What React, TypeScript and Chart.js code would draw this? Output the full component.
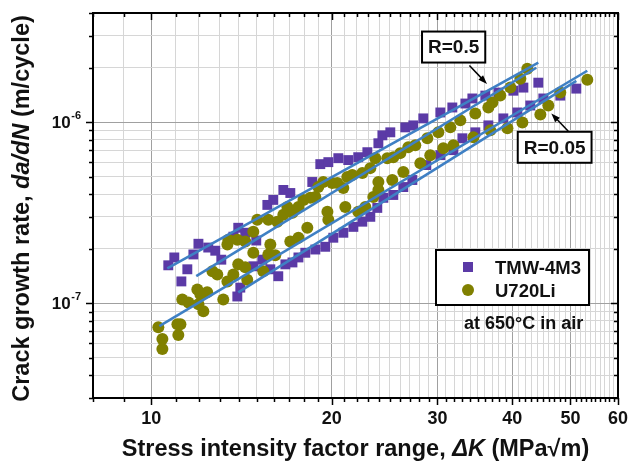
import React, { useEffect, useRef } from 'react';
import { Chart, registerables } from 'chart.js';

Chart.register(...registerables);

// ---- Data (ΔK in MPa√m, da/dN in m/cycle) ----
const tmwK = [
  10.68, 10.93, 11.23, 11.49, 11.76, 11.99, 12.45, 12.79, 13.09, 13.71, 13.97, 14.35, 14.97,
  15.62, 15.98, 16.61, 17.06, 18.56, 19.14, 19.74, 20.51, 21.31, 22.14, 22.93, 23.92, 24.29,
  25.04, 26.52, 27.35, 28.42, 30.34, 31.77, 33.4, 34.31, 36.06, 37.91, 40.16, 41.73, 44.19,
  13.92, 14.08, 14.8, 15.32, 15.8, 16.29, 16.74, 17.2, 17.6, 18.07, 18.78, 19.51, 20.12,
  20.91, 21.73, 22.49, 23.19, 23.82, 24.38, 25.33, 26.32, 27.25, 28.75, 30.34, 31.9, 33.02,
  34.7, 36.48, 38.64, 40.78, 42.85, 45.05, 48.08, 51.13,
];
const tmwRate = [
  1.62e-7, 1.79e-7, 1.32e-7, 1.54e-7, 1.86e-7, 2.13e-7, 2.03e-7, 1.95e-7, 1.74e-7, 2.33e-7, 2.61e-7, 2.45e-7, 2.22e-7,
  3.49e-7, 3.72e-7, 4.22e-7, 4.06e-7, 4.67e-7, 5.86e-7, 6.01e-7, 6.32e-7, 6.17e-7, 6.4e-7, 6.82e-7, 7.64e-7, 8.45e-7,
  8.78e-7, 9.35e-7, 9.59e-7, 1.048e-6, 1.13e-6, 1.204e-6, 1.266e-6, 1.35e-6, 1.4e-6, 1.455e-6, 1.49e-6, 1.55e-6, 1.65e-6,
  1.09e-7, 1.22e-7, 1.6e-7, 1.74e-7, 1.54e-7, 1.41e-7, 1.64e-7, 1.68e-7, 1.79e-7, 1.9e-7, 1.98e-7, 2.05e-7, 2.3e-7,
  2.45e-7, 2.64e-7, 2.82e-7, 3.0e-7, 3.36e-7, 3.82e-7, 3.96e-7, 4.38e-7, 4.79e-7, 5.79e-7, 6.57e-7, 7.0e-7, 8.14e-7,
  8.78e-7, 9.59e-7, 1.048e-6, 1.13e-6, 1.235e-6, 1.35e-6, 1.4e-6, 1.53e-6,
];

const u720K = [
  10.28, 10.44, 10.44, 11.06, 11.19, 11.1, 11.27, 11.54, 11.94, 12.08, 12.4, 12.22, 11.99,
  13.19, 12.65, 12.89, 13.4, 13.71, 13.97, 14.35, 14.46, 14.8, 15.68, 16.1, 15.8, 15.38,
  17.06, 17.6, 18.21, 19.67, 19.74, 21.07, 22.14, 22.75, 23.46, 23.92, 23.92, 25.23, 26.32,
  28.1, 29.19, 30.69, 31.9, 34.44, 36.76, 39.25, 41.57, 44.54, 45.92, 48.08, 53.33,
  14.8, 13.45, 13.92, 13.4, 14.35, 15.03, 15.68, 16.23, 16.61, 17.2, 16.87, 17.6, 17.94,
  18.42, 18.78, 18.99, 19.36, 20.04, 20.43, 20.91, 21.23, 21.64, 22.49, 23.19, 23.64, 24.75,
  25.33, 26.02, 26.83, 27.56, 28.86, 30.11, 31.53, 32.76, 34.7, 36.48, 37.05, 38.19, 39.7,
  41.25, 42.36,
];
const u720Rate = [
  7.38e-8, 6.35e-8, 5.59e-8, 7.67e-8, 7.67e-8, 6.68e-8, 1.05e-7, 1.01e-7, 1.19e-7, 1.12e-7, 1.15e-7, 9.04e-8, 9.87e-8,
  1.05e-7, 1.5e-7, 1.44e-7, 1.32e-7, 1.44e-7, 1.64e-7, 1.58e-7, 1.35e-7, 1.9e-7, 1.86e-7, 1.84e-7, 2.11e-7, 1.5e-7,
  2.19e-7, 2.3e-7, 2.61e-7, 3.2e-7, 2.89e-7, 3.4e-7, 3.2e-7, 3.4e-7, 3.86e-7, 4.22e-7, 4.67e-7, 4.79e-7, 5.3e-7,
  5.93e-7, 6.57e-7, 7.17e-7, 7.45e-7, 8.24e-7, 9.0e-7, 9.24e-7, 9.96e-7, 1.102e-6, 1.235e-6, 1.455e-6, 1.715e-6,
  2.48e-7, 2.24e-7, 2.24e-7, 2.11e-7, 2.19e-7, 2.89e-7, 2.89e-7, 2.82e-7, 3.08e-7, 3.16e-7, 3.4e-7, 3.4e-7, 3.72e-7,
  3.82e-7, 3.86e-7, 4.38e-7, 4.67e-7, 4.61e-7, 4.61e-7, 4.33e-7, 4.97e-7, 5.1e-7, 5.23e-7, 5.57e-7, 6.32e-7, 6.32e-7,
  6.4e-7, 6.74e-7, 7.26e-7, 7.45e-7, 8.14e-7, 8.78e-7, 9.35e-7, 1.022e-6, 1.116e-6, 1.204e-6, 1.283e-6, 1.4e-6, 1.55e-6,
  1.737e-6, 1.97e-6,
];

// Fitted lines (start/end)
const fitNames = ['TMW-4M3 R=0.5', 'U720Li R=0.5', 'U720Li R=0.05', 'TMW-4M3 R=0.05'];
const fitK = [[10.64, 44.19], [11.89, 43.85], [10.32, 53.33], [13.97, 51.13]];
const fitRate = [[1.556e-7, 2.126e-6], [1.41e-7, 1.995e-6], [7.48e-8, 1.92e-6], [1.149e-7, 1.69e-6]];

// Axes
const xMin = 8, xMax = 60;
const yMin = 3e-8, yMax = 4e-6;
const xMajorTicks = [10, 20, 30, 40, 50, 60];
const yMajorTicks = [1e-7, 1e-6];
const yMajorExp = ['-7', '-6'];

// Annotations (data anchors)
const rLabels = ['R=0.5', 'R=0.05'];
const rBoxCenterK = [31.93, 47.05];
const rBoxCenterRate = [2.595e-6, 7.26e-7];
const rArrowFromK = [33.92, 49.58];
const rArrowFromRate = [2.05e-6, 8.89e-7];
const rArrowToK = [36.29, 46.45];
const rArrowToRate = [1.624e-6, 1.116e-6];
const noteText = 'at 650°C in air';

const FONT = '"Liberation Sans", Arial, Helvetica, sans-serif';
const PURPLE = '#5b3aa6';
const OLIVE = '#808000';
const BLUE = '#3f80c4';

function buildXTicks(): number[] {
  const t: number[] = [];
  for (let v = xMin; v <= xMax; v++) t.push(v);
  return t;
}
function buildYTicks(): number[] {
  const t: number[] = [];
  for (let e = -8; e <= -6; e++) {
    for (let m = 1; m <= 9; m++) {
      const v = Number((m * Math.pow(10, e)).toPrecision(3));
      if (v >= yMin * 0.999 && v <= yMax * 1.001) t.push(v);
    }
  }
  return t;
}
const isMajorX = (v: number) => xMajorTicks.some((m) => Math.abs(m - v) < 1e-9);
const isMajorY = (v: number) => yMajorTicks.some((m) => Math.abs(m - v) / m < 1e-6);

function drawRich(ctx: CanvasRenderingContext2D, segs: { text: string; font: string }[], cx: number, y: number) {
  let total = 0;
  const widths = segs.map((s) => {
    ctx.font = s.font;
    const w = ctx.measureText(s.text).width;
    total += w;
    return w;
  });
  let x = cx - total / 2;
  ctx.textAlign = 'left';
  ctx.textBaseline = 'alphabetic';
  segs.forEach((s, i) => {
    ctx.font = s.font;
    ctx.fillText(s.text, x, y);
    x += widths[i];
  });
}

function drawArrow(ctx: CanvasRenderingContext2D, x1: number, y1: number, x2: number, y2: number) {
  const ang = Math.atan2(y2 - y1, x2 - x1);
  const head = 9, hw = 3.2;
  const c = Math.cos(ang), s = Math.sin(ang);
  ctx.strokeStyle = '#000';
  ctx.fillStyle = '#000';
  ctx.lineWidth = 1.5;
  ctx.beginPath();
  ctx.moveTo(x1, y1);
  ctx.lineTo(x2 - head * 0.7 * c, y2 - head * 0.7 * s);
  ctx.stroke();
  ctx.beginPath();
  ctx.moveTo(x2, y2);
  ctx.lineTo(x2 - head * c + hw * s, y2 - head * s - hw * c);
  ctx.lineTo(x2 - head * c - hw * s, y2 - head * s + hw * c);
  ctx.closePath();
  ctx.fill();
}

const decorPlugin = {
  id: 'decor',
  afterDatasetsDraw(chart: any) {
    const ctx: CanvasRenderingContext2D = chart.ctx;
    const ca = chart.chartArea;
    const xs = chart.scales.x;
    const ys = chart.scales.y;
    ctx.save();

    // Frame
    ctx.strokeStyle = '#000';
    ctx.lineWidth = 2;
    ctx.strokeRect(ca.left, ca.top, ca.right - ca.left, ca.bottom - ca.top);

    // Tick marks
    ctx.lineWidth = 1.5;
    ctx.beginPath();
    buildXTicks().forEach((v) => {
      const px = Math.round(xs.getPixelForValue(v)) + 0.5;
      const len = isMajorX(v) ? 7 : 4;
      ctx.moveTo(px, ca.bottom);
      ctx.lineTo(px, ca.bottom + len);
      ctx.moveTo(px, ca.top);
      ctx.lineTo(px, ca.top + len);
    });
    buildYTicks().forEach((v) => {
      const py = Math.round(ys.getPixelForValue(v)) + 0.5;
      const len = isMajorY(v) ? 7 : 4;
      ctx.moveTo(ca.left - len, py);
      ctx.lineTo(ca.left, py);
      ctx.moveTo(ca.right - len, py);
      ctx.lineTo(ca.right, py);
    });
    ctx.stroke();

    // X tick labels
    ctx.fillStyle = '#111';
    ctx.font = `bold 18px ${FONT}`;
    ctx.textAlign = 'center';
    ctx.textBaseline = 'alphabetic';
    xMajorTicks.forEach((v) => {
      ctx.fillText(String(v), xs.getPixelForValue(v), ca.bottom + 26);
    });

    // Y tick labels 10^n
    yMajorTicks.forEach((v, i) => {
      const py = ys.getPixelForValue(v);
      ctx.font = `bold 11px ${FONT}`;
      const supW = ctx.measureText(yMajorExp[i]).width;
      const supX = ca.left - 12 - supW;
      ctx.textAlign = 'left';
      ctx.fillText(yMajorExp[i], supX, py - 3.5);
      ctx.font = `bold 17px ${FONT}`;
      ctx.textAlign = 'right';
      ctx.fillText('10', supX - 0.5, py + 6);
    });

    // Axis titles
    ctx.fillStyle = '#111';
    const tb = `bold 23.5px ${FONT}`;
    const ti = `italic bold 23.5px ${FONT}`;
    drawRich(ctx, [
      { text: 'Stress intensity factor range, ', font: tb },
      { text: 'ΔK', font: ti },
      { text: ' (MPa√m)', font: tb },
    ], (ca.left + ca.right) / 2, 456);
    ctx.save();
    ctx.translate(29, (ca.top + ca.bottom) / 2 + 3);
    ctx.rotate(-Math.PI / 2);
    drawRich(ctx, [
      { text: 'Crack growth rate, ', font: tb },
      { text: 'da/dN', font: ti },
      { text: ' (m/cycle)', font: tb },
    ], 0, 0);
    ctx.restore();

    // Legend
    const lx = ca.right - 182, ly = ca.top + 237, lw = 153, lh = 55;
    ctx.fillStyle = '#fff';
    ctx.fillRect(lx, ly, lw, lh);
    ctx.strokeStyle = '#000';
    ctx.lineWidth = 2;
    ctx.strokeRect(lx, ly, lw, lh);
    ctx.fillStyle = PURPLE;
    ctx.fillRect(lx + 32 - 5, ly + 17 - 5, 10, 10);
    ctx.fillStyle = OLIVE;
    ctx.beginPath();
    ctx.arc(lx + 32, ly + 40, 6, 0, Math.PI * 2);
    ctx.fill();
    ctx.fillStyle = '#111';
    ctx.font = `bold 18.5px ${FONT}`;
    ctx.textAlign = 'left';
    ctx.textBaseline = 'alphabetic';
    ctx.fillText('TMW-4M3', lx + 59, ly + 24);
    ctx.fillText('U720Li', lx + 59, ly + 47);

    // Note
    ctx.font = `bold 18px ${FONT}`;
    ctx.fillText(noteText, lx + 28, ly + 79);

    // R labels with arrows
    rLabels.forEach((lab, i) => {
      const bx = xs.getPixelForValue(rBoxCenterK[i]);
      const by = ys.getPixelForValue(rBoxCenterRate[i]);
      ctx.font = `bold 19px ${FONT}`;
      const w = ctx.measureText(lab).width + 12;
      const h = 31;
      ctx.fillStyle = '#fff';
      ctx.fillRect(bx - w / 2, by - h / 2, w, h);
      ctx.strokeStyle = '#000';
      ctx.lineWidth = 2;
      ctx.strokeRect(bx - w / 2, by - h / 2, w, h);
      ctx.fillStyle = '#111';
      ctx.textAlign = 'center';
      ctx.textBaseline = 'middle';
      ctx.fillText(lab, bx, by + 1);
      drawArrow(
        ctx,
        xs.getPixelForValue(rArrowFromK[i]), ys.getPixelForValue(rArrowFromRate[i]),
        xs.getPixelForValue(rArrowToK[i]), ys.getPixelForValue(rArrowToRate[i]),
      );
    });

    ctx.restore();
  },
};

export default function App() {
  const ref = useRef<HTMLCanvasElement | null>(null);
  useEffect(() => {
    if (!ref.current) return;
    const pts = (k: number[], r: number[]) => k.map((x, i) => ({ x, y: r[i] }));
    const fitSets = fitNames.map((name, i) => ({
      type: 'line' as const,
      label: name,
      data: [{ x: fitK[i][0], y: fitRate[i][0] }, { x: fitK[i][1], y: fitRate[i][1] }],
      showLine: true,
      borderColor: BLUE,
      borderWidth: 2.6,
      pointRadius: 0,
      fill: false,
      order: 1,
    }));
    const chart = new Chart(ref.current, {
      type: 'scatter',
      data: {
        datasets: [
          ...fitSets,
          {
            label: 'U720Li',
            data: pts(u720K, u720Rate),
            pointStyle: 'circle',
            pointRadius: 6,
            backgroundColor: OLIVE,
            borderWidth: 0,
            order: 2,
          },
          {
            label: 'TMW-4M3',
            data: pts(tmwK, tmwRate),
            pointStyle: 'rect',
            pointRadius: 7,
            backgroundColor: PURPLE,
            borderWidth: 0,
            order: 3,
          },
        ] as any,
      },
      options: {
        animation: false,
        responsive: false,
        events: [],
        layout: { padding: { top: 13, right: 12, left: 0, bottom: 0 } },
        plugins: { legend: { display: false }, tooltip: { enabled: false } },
        scales: {
          x: {
            type: 'logarithmic',
            min: xMin,
            max: xMax,
            afterBuildTicks: (s: any) => { s.ticks = buildXTicks().map((value) => ({ value })); },
            afterFit: (s: any) => { s.height = 67; },
            ticks: { display: false, autoSkip: false },
            border: { display: false },
            grid: {
              drawTicks: false,
              lineWidth: 1,
              color: (c: any) => (c.tick && isMajorX(c.tick.value) ? '#a0a0a0' : '#d6d6d6'),
            },
          },
          y: {
            type: 'logarithmic',
            min: yMin,
            max: yMax,
            afterBuildTicks: (s: any) => { s.ticks = buildYTicks().map((value) => ({ value })); },
            afterFit: (s: any) => { s.width = 93; },
            ticks: { display: false, autoSkip: false },
            border: { display: false },
            grid: {
              drawTicks: false,
              lineWidth: 1,
              color: (c: any) => (c.tick && isMajorY(c.tick.value) ? '#a0a0a0' : '#d6d6d6'),
            },
          },
        },
      } as any,
      plugins: [decorPlugin],
    });
    return () => chart.destroy();
  }, []);
  return (
    <div style={{ position: 'fixed', left: 0, top: 0, width: 630, height: 465, background: '#fff' }}>
      <canvas ref={ref} width={630} height={465} style={{ display: 'block' }} />
    </div>
  );
}
